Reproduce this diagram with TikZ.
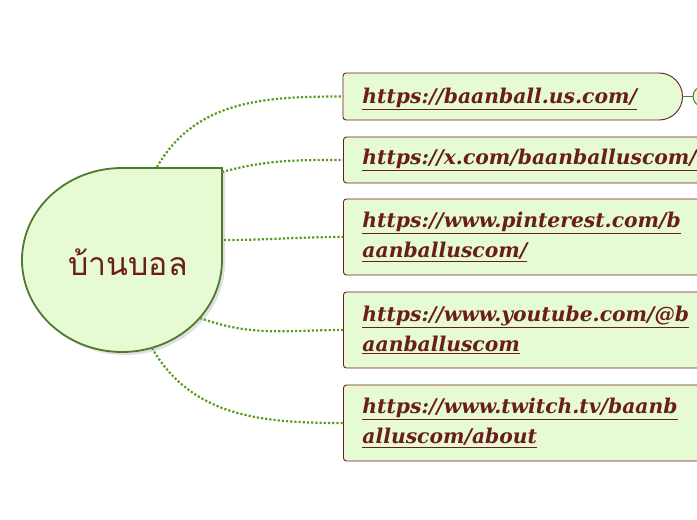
\documentclass[tikz,border=0pt]{standalone}
\usepackage{fontspec}
\setmainfont{DejaVu Serif}
\newfontfamily\thaifont[Script=Thai]{Loma}
\usetikzlibrary{positioning}
\definecolor{leaf}{HTML}{E6FAD4}
\definecolor{rim}{HTML}{4F7A2E}
\definecolor{wine}{HTML}{6B1C1C}
\definecolor{dots}{HTML}{5A9A1E}
\tikzset{
  linkbox/.style = {draw=wine, fill=leaf, line width=0.9pt, rounded corners=3pt, anchor=west, minimum height=46pt,
                    text width=380pt, inner xsep=19pt, align=left, text=wine,
                    font=\fontsize{20.3}{30}\selectfont\bfseries\itshape},
  twoline/.style = {minimum height=76pt},
  twig/.style = {dots, line width=2.2pt, dotted}
}
\newcommand{\ul}[1]{\underline{#1}}
\begin{document}
\begin{tikzpicture}[x=1pt,y=1pt]
\useasboundingbox (0,0) rectangle (697,520);
\clip (0,0) rectangle (697,520);
% central topic
\fill[black!12] (225,349) -- (125,349) arc[start angle=90,end angle=360,x radius=100,y radius=92] -- cycle;
\draw[rim, line width=1.8pt, fill=leaf] (222,352) -- (122,352) arc[start angle=90,end angle=360,x radius=100,y radius=92] -- cycle;
\node (hub) [text=wine, font=\thaifont\fontsize{32}{36}\selectfont] at (128,258) {บ้านบอล};
\coordinate (h1) at (157,353);
\coordinate (h2) at (222,348);
\coordinate (h3) at (224,280);
\coordinate (h4) at (200,202);
\coordinate (h5) at (152,172);
% links
\draw[wine, line width=0.9pt, fill=leaf] (346,400) -- (659,400) arc[start angle=-90,end angle=90,radius=23.5] -- (346,447)
  arc[start angle=90,end angle=180,radius=3] -- (343,444) -- (343,403) arc[start angle=180,end angle=270,radius=3] -- cycle;
\node (b1) [linkbox, draw=none, fill=none] at (343,421) {\ul{https://baanball.us.com/}};
\draw[rim, line width=1pt] (682,423.5) -- (693,423.5);
\draw[rim, line width=1pt, fill=leaf] (703,423.5) circle (10);
\node (b2) [linkbox] at (343,360) {\ul{https://x.com/baanballuscom/}};
\node (b3) [linkbox, twoline] at (343,283) {\ul{https://www.pinterest.com/b}\\\ul{aanballuscom/}};
\node (b4) [linkbox, twoline] at (343,190) {\ul{https://www.youtube.com/@b}\\\ul{aanballuscom}};
\node (b5) [linkbox, twoline] at (343,97) {\ul{https://www.twitch.tv/baanb}\\\ul{alluscom/about}};
\draw[twig] (h1) to[out=60, in=180] (343,423.5);
\draw[twig] (h2) to[out=15, in=180] (b2.west);
\draw[twig] (h3) to[out=0, in=180] (b3.west);
\draw[twig] (h4) to[out=-20, in=180] (b4.west);
\draw[twig] (h5) to[out=-60, in=180] (b5.west);
\end{tikzpicture}
\end{document}
